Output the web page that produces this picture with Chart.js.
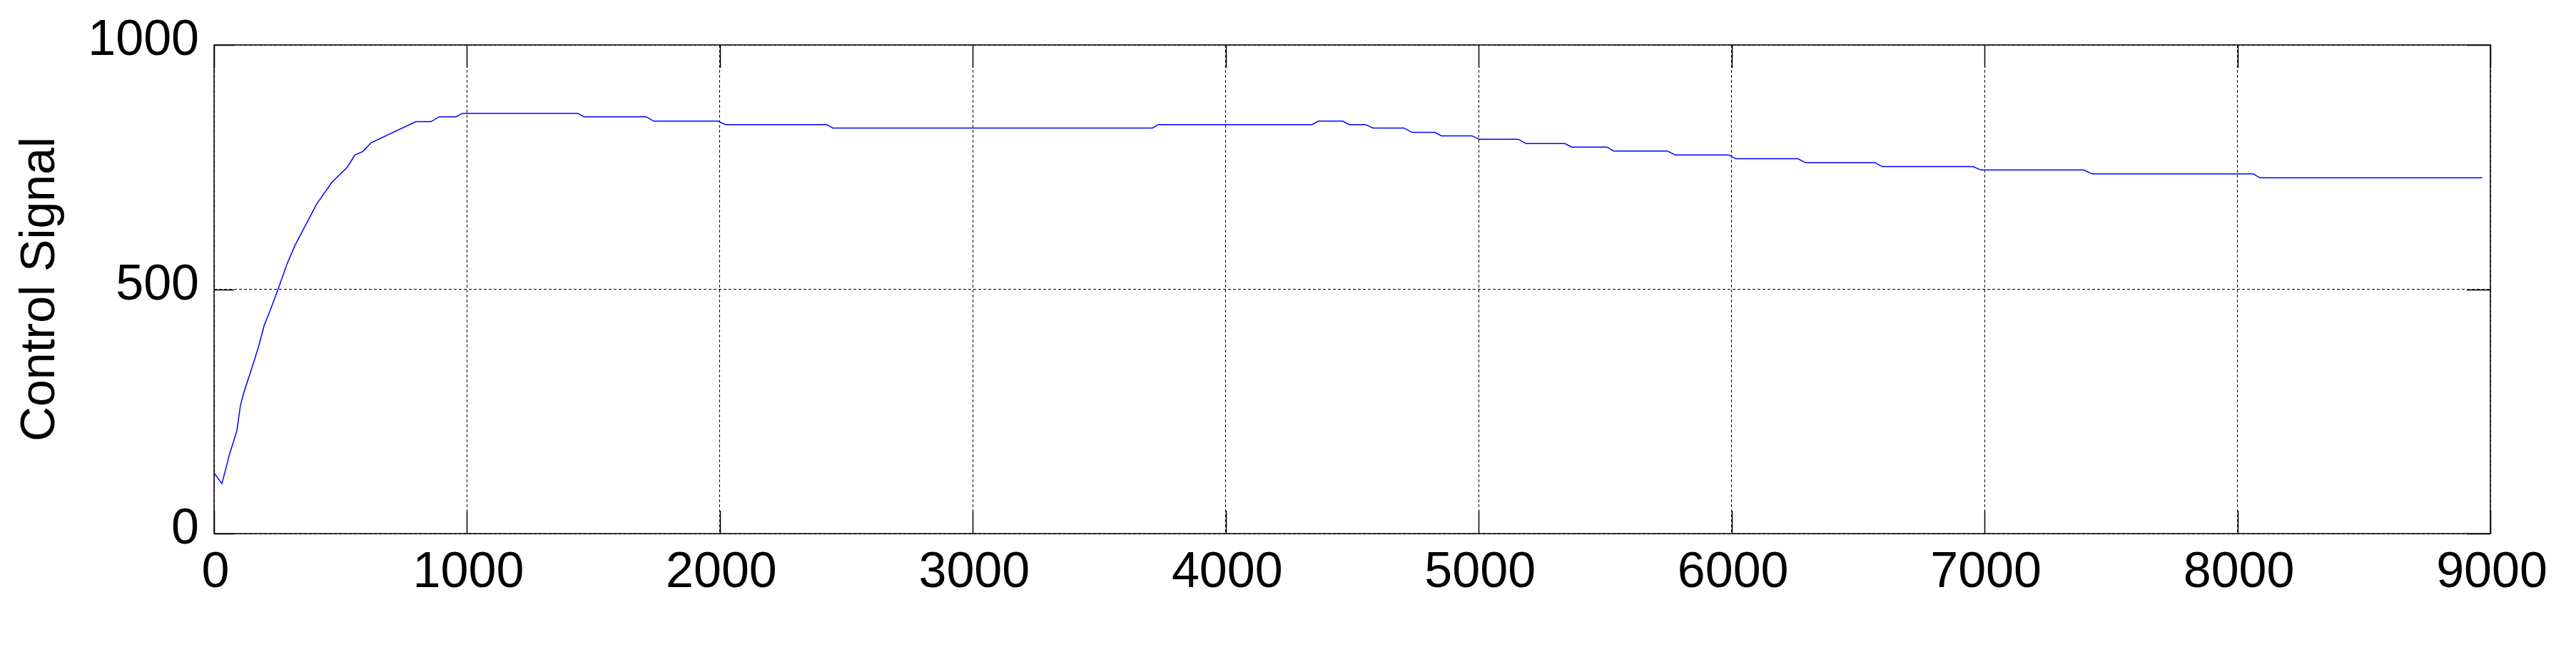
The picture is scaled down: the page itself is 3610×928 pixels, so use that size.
<!DOCTYPE html>
<html>
<head>
<meta charset="utf-8">
<script src="https://cdn.jsdelivr.net/npm/chart.js@4.4.1/dist/chart.umd.min.js"></script>
<style>
  html, body { margin: 0; padding: 0; background: #fff; }
  #wrap { width: 3610px; height: 928px; position: relative; }
</style>
</head>
<body>
<div id="wrap"><canvas id="signalChart"></canvas></div>
<script>
// ---------- data ----------
const timeValues = [
  0, 31, 62, 90, 104, 118, 147, 175, 198, 225, 255, 288, 320, 405, 466, 527, 557, 588, 621,
  798, 858, 890, 957, 982, 1439, 1463, 1709, 1738, 1991, 2023, 2423, 2446,
  3711, 3733, 4341, 4366, 4463, 4488, 4553, 4582, 4704, 4736, 4826, 4853, 4974, 5001,
  5156, 5187, 5341, 5368, 5507, 5534, 5746, 5777, 5989, 6016, 6262, 6293,
  6568, 6595, 6955, 6985, 7392, 7426, 8063, 8089, 8968
];
const signalValues = [
  124, 102, 164, 210, 262, 289, 335, 381, 426, 461, 503, 551, 590, 674, 719, 750, 775, 782, 800,
  843, 843, 853, 853, 860, 860, 853, 853, 844, 844, 837, 837, 830,
  830, 837, 837, 844, 844, 837, 837, 830, 830, 821, 821, 814, 814, 807,
  807, 798, 798, 791, 791, 783, 783, 775, 775, 767, 767, 759,
  759, 751, 751, 744, 744, 736, 736, 728, 728
];
const xTicks = [0, 1000, 2000, 3000, 4000, 5000, 6000, 7000, 8000, 9000];
const yTicks = [0, 500, 1000];
const yTitle = "Control Signal";

const FONT = "'Liberation Sans', Arial, Helvetica, sans-serif";

// MATLAB-style box with inward tick marks
const boxPlugin = {
  id: "boxFrame",
  afterDraw(chart) {
    const { ctx, chartArea: a, scales } = chart;
    ctx.save();
    ctx.strokeStyle = "#000";
    ctx.lineWidth = 1.5;
    ctx.beginPath();
    xTicks.forEach((v) => {
      const px = Math.round(scales.x.getPixelForValue(v)) + 0.5;
      ctx.moveTo(px, a.bottom); ctx.lineTo(px, a.bottom - 32);
      ctx.moveTo(px, a.top); ctx.lineTo(px, a.top + 32);
    });
    yTicks.forEach((v) => {
      const py = Math.round(scales.y.getPixelForValue(v)) + 0.5;
      ctx.moveTo(a.left, py); ctx.lineTo(a.left + 28, py);
      ctx.moveTo(a.right, py); ctx.lineTo(a.right - 33, py);
    });
    ctx.stroke();
    ctx.strokeRect(a.left, a.top, a.right - a.left, a.bottom - a.top);
    ctx.restore();
  },
};

new Chart(document.getElementById("signalChart"), {
  type: "line",
  data: {
    datasets: [{
      data: timeValues.map((t, i) => ({ x: t, y: signalValues[i] })),
      borderColor: "#0000ff",
      borderWidth: 1.5,
      pointRadius: 0,
      tension: 0,
      fill: false,
    }],
  },
  options: {
    responsive: true,
    maintainAspectRatio: false,
    animation: false,
    layout: { padding: { top: 56, right: 120, bottom: 0, left: 0 } },
    plugins: { legend: { display: false }, tooltip: { enabled: false } },
    scales: {
      x: {
        type: "linear",
        min: 0, max: 9000,
        afterFit: (s) => { s.height = 180; },
        afterBuildTicks: (s) => { s.ticks = xTicks.map((v) => ({ value: v })); },
        grid: { color: "#000", lineWidth: 1, drawTicks: false },
        border: { display: false, dash: [4, 3] },
        ticks: {
          color: "#000", padding: 14, maxRotation: 0, autoSkip: false, labelOffset: 2,
          font: { family: FONT, size: 70 },
          callback: (v) => String(v),
        },
      },
      y: {
        min: 0, max: 1000,
        afterFit: (s) => { s.width = 300; },
        afterBuildTicks: (s) => { s.ticks = yTicks.map((v) => ({ value: v })); },
        grid: { color: "#000", lineWidth: 1, drawTicks: false },
        border: { display: false, dash: [4, 3] },
        ticks: {
          color: "#000", padding: 21, autoSkip: false, labelOffset: -5,
          font: { family: FONT, size: 70 },
          callback: (v) => String(v),
        },
        title: { display: true, text: yTitle, color: "#000", padding: { top: 16, bottom: 0 }, font: { family: FONT, size: 68 } },
      },
    },
  },
  plugins: [boxPlugin],
});
</script>
</body>
</html>
